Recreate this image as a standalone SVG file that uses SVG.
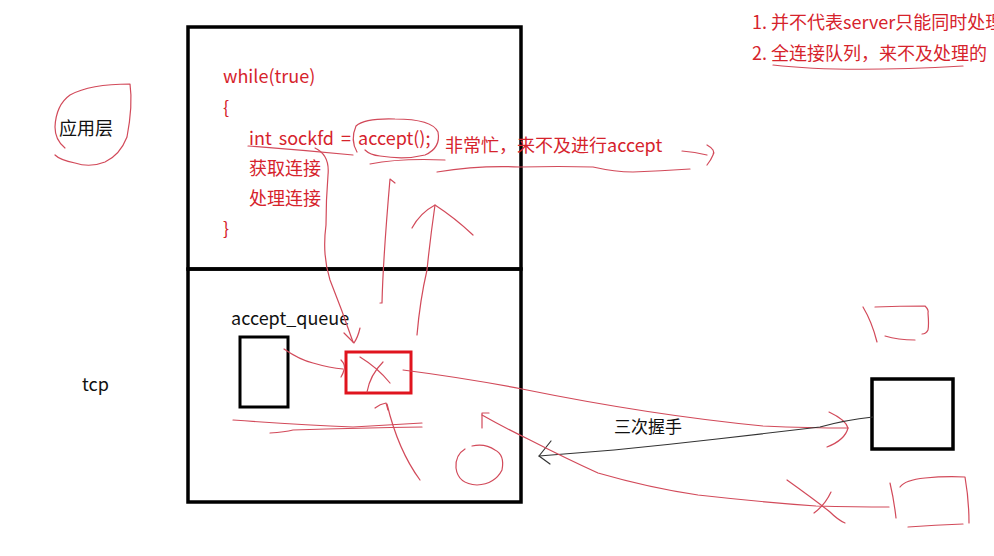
<svg xmlns="http://www.w3.org/2000/svg" width="994" height="556" viewBox="0 0 994 556">
<style>
.t{font-family:"Noto Sans CJK SC","Noto Sans",sans-serif;font-size:18px}
.r{fill:#d6232c}
.k{fill:#111}
.box{fill:none;stroke:#000;stroke-width:3.5}
.pen{fill:none;stroke:#d24a5a;stroke-width:1.2;stroke-linecap:round;stroke-linejoin:round}
.ink{fill:none;stroke:#333;stroke-width:1.2;stroke-linecap:round;stroke-linejoin:round}
</style>
<rect width="994" height="556" fill="#fff"/>
<g id="app-box"><rect class="box" x="188" y="27" width="333" height="242"/></g>
<g id="tcp-box"><rect class="box" x="188" y="269" width="333" height="233"/></g>
<g id="code">
<text class="t r" x="223" y="83">while(true)</text>
<text class="t r" x="223" y="114">{</text>
<text class="t r" x="249" y="145" style="word-spacing:3px">int sockfd = accept();</text>
<text class="t r" x="249" y="175">获取连接</text>
<text class="t r" x="249" y="205">处理连接</text>
<text class="t r" x="223" y="235">}</text>
</g>
<g id="notes">
<text class="t r" x="752" y="29">1. 并不代表server只能同时处理</text>
<text class="t r" x="752" y="60">2. 全连接队列，来不及处理的</text>
<text class="t r" x="445" y="152">非常忙，来不及进行accept</text>
</g>
<g id="labels">
<text class="t k" x="59" y="135">应用层</text>
<text class="t k" x="82" y="391">tcp</text>
<text class="t k" x="231" y="325">accept_queue</text>
<text class="t k" x="614" y="433" style="font-size:17px">三次握手</text>
</g>
<g id="queue"><rect x="240" y="337" width="48" height="70" fill="none" stroke="#000" stroke-width="3"/></g>
<g id="red-slot"><rect x="346" y="352" width="65" height="41" fill="none" stroke="#e0141e" stroke-width="3"/></g>
<g id="client"><rect class="box" x="872" y="379" width="81" height="70"/></g>
<g id="connectors">
<path class="pen" d="M773 65 Q840 73 963 66"/>
<path class="pen" d="M65 148 Q55 140 55 127 Q56 105 70 95 Q90 84 130 84 Q133 105 127 137 Q120 155 105 162 Q90 168 75 163 Q60 160 55 155"/>
<path class="pen" d="M248 146 Q300 150 353 155"/>
<path class="pen" d="M357 152 Q350 140 356 126 Q365 118 395 119 Q432 119 438 132 Q441 148 425 155 Q405 160 380 156 Q370 155 365 150"/>
<path class="pen" d="M370 164 Q400 158 445 160"/>
<path class="pen" d="M437 172 Q480 165 520 167 Q560 166 593 167 Q615 172 633 172 Q660 171 690 169"/>
<path class="pen" d="M682 151 Q695 152 707 155"/>
<path class="pen" d="M707 145 Q716 150 713 155 Q711 160 707 165"/>
<path class="pen" d="M315 148 Q330 155 328 175 Q326 200 326 225 Q322 255 330 280 Q342 310 353 342"/>
<path class="pen" d="M360 328 Q358 337 354 343 Q349 338 344 333"/>
<path class="pen" d="M380 303 L382 303 Q383 260 390 179 L395 183"/>
<path class="pen" d="M417 335 Q420 300 427 270 Q430 240 435 205"/>
<path class="pen" d="M412 228 Q420 213 435 205 Q455 218 473 235"/>
<path class="pen" d="M284 349 Q300 360 313 363 Q330 368 343 369"/>
<path class="pen" d="M341 360 Q346 365 344 370 Q343 374 341 377"/>
<path class="pen" d="M360 357 Q378 368 390 383"/>
<path class="pen" d="M383 362 Q370 375 367 392"/>
<path class="pen" d="M233 420 Q300 425 353 427 Q390 425 422 423"/>
<path class="pen" d="M270 433 Q285 432 293 430 Q360 428 422 427"/>
<path class="pen" d="M420 480 Q398 450 387 404"/>
<path class="pen" d="M375 408 Q380 404 386 403 Q387 406 388 410"/>
<path class="pen" d="M465 449 Q455 455 456 468 Q458 484 477 485 Q495 484 502 470 Q505 455 495 450 Q485 443 472 446"/>
<path class="pen" d="M403 370 Q465 378 522 389 Q650 415 763 426 Q810 428 848 428"/>
<path class="pen" d="M829 412 Q846 420 848 428 Q845 440 827 447"/>
<path class="ink" d="M873 417 Q845 420 820 427 Q770 433 717 439 Q665 445 614 450 Q575 453 539 456"/>
<path class="ink" d="M551 441 L539 456 L550 464"/>
<path class="pen" d="M482 428 L482 413 L489 413"/>
<path class="pen" d="M482 415 Q505 428 530 440 Q565 458 598 473 Q650 488 698 495 Q760 502 816 506 Q855 507 889 507"/>
<path class="pen" d="M787 480 Q815 500 830 512 Q838 520 845 523"/>
<path class="pen" d="M831 492 Q825 505 814 513"/>
<path class="pen" d="M890 483 Q894 500 896 518"/>
<path class="pen" d="M900 487 Q905 480 925 478 Q945 476 965 477 Q969 500 969 523"/>
<path class="pen" d="M908 527 Q935 525 963 524"/>
<path class="pen" d="M863 307 Q872 322 877 342"/>
<path class="pen" d="M875 307 Q900 306 925 306 Q929 310 928 313 Q929 325 928 330 Q926 334 922 334"/>
<path class="pen" d="M885 336 Q898 340 915 340"/>
</g>
</svg>
